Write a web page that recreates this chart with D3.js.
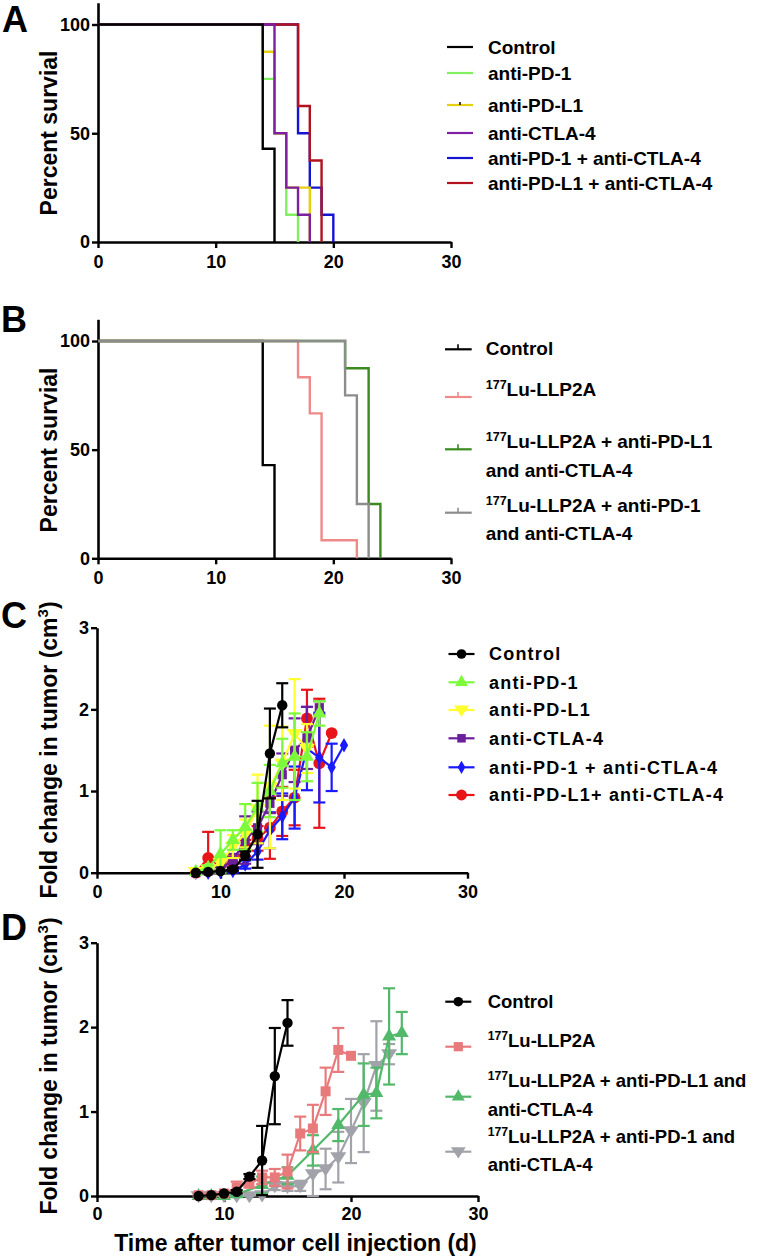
<!DOCTYPE html>
<html><head><meta charset="utf-8">
<script src="https://cdn.jsdelivr.net/npm/d3@7"></script>
<style>body{margin:0;background:#fff}svg{display:block}</style>
</head><body>
<svg id="chart" width="757" height="1259"></svg>
<script>
// ---------------- DATA ----------------
const xTicks = [0, 10, 20, 30];
const survTicksY = [0, 50, 100];
const growthTicksY = [0, 1, 2, 3];

// Panel A : Kaplan-Meier steps (day, percent survival)
const aNames = ["Control", "anti-PD-1", "anti-PD-L1", "anti-CTLA-4", "anti-PD-1 + anti-CTLA-4", "anti-PD-L1 + anti-CTLA-4"];
const aControlT = [0, 14, 15],          aControlS = [100, 42.9, 0];
const aPD1T     = [0, 14, 15, 16, 17],  aPD1S     = [100, 75, 50, 12.5, 0];
const aPDL1T    = [0, 14, 15, 16, 18],  aPDL1S    = [100, 87.5, 50, 25, 0];
const aCTLA4T   = [0, 15, 16, 17, 18],  aCTLA4S   = [100, 50, 25, 12.5, 0];
const aPD1CT    = [0, 17, 18, 19, 20],  aPD1CS    = [100, 50, 25, 12.5, 0];
const aPDL1CT   = [0, 17, 18, 19],      aPDL1CS   = [100, 62.5, 37.5, 0];

// Panel B
const bNames = [["Control"], ["177Lu-LLP2A"], ["177Lu-LLP2A + anti-PD-L1", "and anti-CTLA-4"], ["177Lu-LLP2A + anti-PD-1", "and anti-CTLA-4"]];
const bControlT = [0, 14, 15],             bControlS = [100, 42.9, 0];
const bLuT      = [0, 17, 18, 19, 22],     bLuS      = [100, 83.3, 66.7, 8.3, 0];
const bLuPDL1T  = [0, 21, 23, 24],         bLuPDL1S  = [100, 87.5, 25, 0];
const bLuPD1T   = [0, 21, 22, 23],         bLuPD1S   = [100, 75, 25, 0];

// Panel C : fold change in tumour, mean and error
const cNames = ["Control", "anti-PD-1", "anti-PD-L1", "anti-CTLA-4", "anti-PD-1 + anti-CTLA-4", "anti-PD-L1+ anti-CTLA-4"];
const cControlD = [8, 9, 10, 11, 12, 13, 14, 15];
const cControlM = [0, 0.01, 0.02, 0.04, 0.21, 0.47, 1.46, 2.05];
const cControlE = [0, 0.01, 0.01, 0.02, 0.05, 0.41, 0.55, 0.27];
const cPD1D = [8, 9, 10, 11, 12, 13, 14, 15, 16, 17, 18];
const cPD1M = [0.01, 0.06, 0.23, 0.40, 0.56, 0.80, 1.00, 1.34, 1.42, 1.42, 1.95];
const cPD1E = [0, 0.03, 0.29, 0.12, 0.28, 0.30, 0.32, 0.30, 0.53, 0.30, 0.15];
const cPDL1D = [8, 9, 10, 11, 12, 13, 14, 15, 16, 17];
const cPDL1M = [0.01, 0.04, 0.12, 0.32, 0.48, 0.78, 1.05, 1.34, 1.70, 1.52];
const cPDL1E = [0, 0.02, 0.08, 0.14, 0.17, 0.42, 0.75, 0.45, 0.67, 0.30];
const cCTLA4D = [8, 9, 10, 11, 12, 13, 14, 15, 16, 17, 18];
const cCTLA4M = [0, 0.02, 0.05, 0.15, 0.40, 0.55, 0.85, 1.20, 1.50, 1.65, 2.02];
const cCTLA4E = [0, 0.01, 0.03, 0.08, 0.29, 0.20, 0.12, 0.26, 0.39, 0.38, 0.08];
const cPD1CD = [8, 9, 10, 11, 12, 13, 14, 15, 16, 17, 18, 19, 20];
const cPD1CM = [0, 0, 0.01, 0.02, 0.10, 0.26, 0.52, 0.69, 0.92, 1.52, 1.41, 1.29, 1.56];
const cPD1CE = [0, 0, 0, 0.02, 0.05, 0.10, 0.22, 0.28, 0.38, 0.51, 0.55, 0.29, 0];
const cPDL1CD = [8, 9, 10, 11, 12, 13, 14, 15, 16, 17, 18, 19];
const cPDL1CM = [0, 0.18, 0.08, 0.12, 0.30, 0.42, 0.55, 0.75, 0.92, 1.89, 1.34, 1.71];
const cPDL1CE = [0, 0.32, 0.05, 0.08, 0.10, 0.15, 0.38, 0.30, 0.34, 0.35, 0.79, 0];

// Panel D
const dNames = [["Control"], ["177Lu-LLP2A"], ["177Lu-LLP2A + anti-PD-L1 and", "anti-CTLA-4"], ["177Lu-LLP2A + anti-PD-1 and", "anti-CTLA-4"]];
const dControlD = [8, 9, 10, 11, 12, 13, 14, 15];
const dControlM = [0, 0.01, 0.03, 0.05, 0.23, 0.42, 1.42, 2.05];
const dControlE = [0, 0.01, 0.01, 0.02, 0.03, 0.41, 0.57, 0.27];
const dLuD = [8, 9, 10, 11, 12, 13, 14, 15, 16, 17, 18, 19, 20];
const dLuM = [0.01, 0.01, 0.03, 0.10, 0.15, 0.22, 0.22, 0.29, 0.74, 0.80, 1.24, 1.73, 1.66];
const dLuE = [0.02, 0.02, 0.02, 0.07, 0.05, 0.08, 0.10, 0.20, 0.20, 0.28, 0.28, 0.26, 0];
const dLuPDL1D = [8, 9, 10, 11, 13, 15, 17, 19, 21, 22, 23, 24];
const dLuPDL1M = [0, 0, 0, 0.02, 0.13, 0.24, 0.54, 0.84, 1.20, 1.22, 1.89, 1.93];
const dLuPDL1E = [0, 0, 0, 0.02, 0.10, 0.10, 0.18, 0.19, 0.37, 0.30, 0.57, 0.25];
const dLuPD1D = [8, 9, 10, 11, 12, 13, 14, 15, 16, 17, 18, 19, 20, 21, 22, 23];
const dLuPD1M = [0, 0, 0, 0, 0, 0.01, 0.12, 0.11, 0.12, 0.26, 0.32, 0.46, 0.77, 1.10, 1.54, 1.68];
const dLuPD1E = [0, 0, 0, 0, 0, 0.01, 0.05, 0.05, 0.06, 0.27, 0.24, 0.30, 0.38, 0.58, 0.53, 0.12];

// ---------------- STYLE ----------------
const FONT = '"Liberation Sans", Arial, Helvetica, sans-serif';
const svg = d3.select("#chart").attr("font-family", FONT);

function zip(a, b) { return a.map((v, i) => [v, b[i]]); }

function axes(x, y, yTicks, xPad, yTitle, yTitleCenter) {
  const fmt = d3.format("d");
  const gx = svg.append("g").attr("transform", `translate(0,${y(0)})`)
    .call(d3.axisBottom(x).tickValues(xTicks).tickFormat(fmt).tickSize(6).tickSizeOuter(0).tickPadding(xPad));
  const gy = svg.append("g").attr("transform", `translate(${x(0)},0)`)
    .call(d3.axisLeft(y).tickValues(yTicks).tickFormat(fmt).tickSize(6).tickSizeOuter(0).tickPadding(2));
  [gx, gy].forEach(g => {
    g.attr("font-family", FONT).attr("font-size", 18).attr("font-weight", "bold");
    g.select(".domain").attr("stroke", "#000").attr("stroke-width", 2.6);
    g.selectAll(".tick line").attr("stroke", "#000").attr("stroke-width", 2.4);
    g.selectAll(".tick text").attr("fill", "#000");
  });
  const t = svg.append("text")
    .attr("transform", `translate(57,${yTitleCenter}) rotate(-90)`)
    .attr("text-anchor", "middle").attr("font-size", 23).attr("font-weight", "bold");
  if (yTitle === "fold") {
    t.append("tspan").text("Fold change in tumor (cm");
    t.append("tspan").attr("font-size", 15).attr("dy", -9).text("3");
    t.append("tspan").attr("dy", 9).text(")");
  } else t.text(yTitle);
}

function panelLetter(txt, x, y) {
  svg.append("text").attr("x", x).attr("y", y).attr("font-size", 36).attr("font-weight", "bold").text(txt);
}

function labelText(sel, str, size) {
  if (str.startsWith("177")) {
    sel.append("tspan").attr("font-size", size * 0.66).attr("dy", -7).text("177");
    sel.append("tspan").attr("dy", 7).text(str.slice(3));
  } else sel.text(str);
}

// ---------------- PANEL A ----------------
{
  const x = d3.scaleLinear([0, 30], [98, 451]);
  const y = d3.scaleLinear([0, 110], [242, 2.75]);
  const colors = ["#000000", "#80f060", "#e6cf10", "#7d1fa0", "#1414d2", "#b0121e"];
  const series = [zip(aControlT, aControlS), zip(aPD1T, aPD1S), zip(aPDL1T, aPDL1S), zip(aCTLA4T, aCTLA4S), zip(aPD1CT, aPD1CS), zip(aPDL1CT, aPDL1CS)];
  const line = d3.line().x(d => x(d[0])).y(d => y(d[1])).curve(d3.curveStepAfter);
  axes(x, y, survTicksY, 7, "Percent survial", 133);
  [4, 5, 1, 2, 3, 0].forEach(i => {
    svg.append("path").attr("d", line(series[i])).attr("fill", "none")
      .attr("stroke", colors[i]).attr("stroke-width", 2.4);
  });
  const rows = [47, 73, 105, 133, 158, 183];
  aNames.forEach((n, i) => {
    svg.append("line").attr("x1", 447).attr("x2", 473).attr("y1", rows[i]).attr("y2", rows[i])
      .attr("stroke", colors[i]).attr("stroke-width", 2.2);
    if (i === 2) svg.append("line").attr("x1", 460).attr("x2", 460).attr("y1", rows[i] - 3).attr("y2", rows[i])
      .attr("stroke", "#000").attr("stroke-width", 1.5);
    svg.append("text").attr("x", 488).attr("y", rows[i]).attr("dy", "0.36em")
      .attr("font-size", 19).attr("font-weight", "bold").text(n);
  });
  panelLetter("A", 2, 32);
}

// ---------------- PANEL B ----------------
{
  const x = d3.scaleLinear([0, 30], [98, 451]);
  const y = d3.scaleLinear([0, 110], [558.3, 319.3]);
  const colors = ["#000000", "#ee8a8a", "#3a8a1e", "#8c8c8c"];
  const series = [zip(bControlT, bControlS), zip(bLuT, bLuS), zip(bLuPDL1T, bLuPDL1S), zip(bLuPD1T, bLuPD1S)];
  const line = d3.line().x(d => x(d[0])).y(d => y(d[1])).curve(d3.curveStepAfter);
  axes(x, y, survTicksY, 7, "Percent survial", 450);
  [0, 1, 2, 3].forEach(i => {
    svg.append("path").attr("d", line(series[i])).attr("fill", "none")
      .attr("stroke", colors[i]).attr("stroke-width", 2.4);
  });
  const rows = [[348.3], [396], [448.3, 470], [511.7, 533.3]];
  bNames.forEach((lines, i) => {
    const ly = rows[i][0];
    svg.append("line").attr("x1", 445).attr("x2", 471.7).attr("y1", ly + 1).attr("y2", ly + 1)
      .attr("stroke", colors[i]).attr("stroke-width", 2.2);
    svg.append("line").attr("x1", 458).attr("x2", 458).attr("y1", ly - 4).attr("y2", ly + 1)
      .attr("stroke", colors[i]).attr("stroke-width", 1.6);
    lines.forEach((s, k) => {
      const t = svg.append("text").attr("x", 485.7).attr("y", rows[i][k]).attr("dy", "0.36em")
        .attr("font-size", 19).attr("font-weight", "bold");
      labelText(t, s, 19);
    });
  });
  panelLetter("B", 1, 332);
}

// ---------------- growth helpers ----------------
function drawGrowth(x, y, s) {
  const g = svg.append("g");
  const pts = zip(s.d, s.m).map((p, i) => ({ d: p[0], m: p[1], e: s.e[i] }));
  g.append("path").attr("d", d3.line().x(p => x(p.d)).y(p => y(p.m))(pts))
    .attr("fill", "none").attr("stroke", s.color).attr("stroke-width", 2.2);
  pts.filter(p => p.e > 0.015).forEach(p => {
    const lo = Math.max(0, p.m - p.e), hi = p.m + p.e;
    g.append("line").attr("x1", x(p.d)).attr("x2", x(p.d)).attr("y1", y(lo)).attr("y2", y(hi))
      .attr("stroke", s.color).attr("stroke-width", 2.2);
    [lo, hi].forEach(v => g.append("line").attr("x1", x(p.d) - 6).attr("x2", x(p.d) + 6)
      .attr("y1", y(v)).attr("y2", y(v)).attr("stroke", s.color).attr("stroke-width", 2.2));
  });
  g.selectAll("path.sym").data(pts).join("path").attr("class", "sym")
    .attr("transform", p => `translate(${x(p.d)},${y(p.m)})`)
    .attr("d", d3.symbol(s.sym, s.size)).attr("fill", s.color);
}
function legendSym(cx, cy, s) {
  svg.append("line").attr("x1", cx - 13).attr("x2", cx + 13).attr("y1", cy).attr("y2", cy)
    .attr("stroke", s.color).attr("stroke-width", 2.2);
  svg.append("path").attr("transform", `translate(${cx},${cy})`)
    .attr("d", d3.symbol(s.sym, s.size * 0.85)).attr("fill", s.color);
}
const triDown = { draw(ctx, size) { const r = Math.sqrt(size / 1.3); ctx.moveTo(-r, -r * 0.6); ctx.lineTo(r, -r * 0.6); ctx.lineTo(0, r * 0.9); ctx.closePath(); } };

// ---------------- PANEL C ----------------
{
  const x = d3.scaleLinear([0, 30], [97, 467.5]);
  const y = d3.scaleLinear([0, 3], [872.7, 627.7]);
  axes(x, y, growthTicksY, 7, "fold", 750);
  const S = [
    { d: cControlD, m: cControlM, e: cControlE, color: "#000000", sym: d3.symbolCircle, size: 85 },
    { d: cPD1D, m: cPD1M, e: cPD1E, color: "#7dfa3c", sym: d3.symbolTriangle, size: 85 },
    { d: cPDL1D, m: cPDL1M, e: cPDL1E, color: "#ffff2e", sym: triDown, size: 85 },
    { d: cCTLA4D, m: cCTLA4M, e: cCTLA4E, color: "#6c1f9c", sym: d3.symbolSquare, size: 85 },
    { d: cPD1CD, m: cPD1CM, e: cPD1CE, color: "#1a1aff", sym: d3.symbolDiamond, size: 60 },
    { d: cPDL1CD, m: cPDL1CM, e: cPDL1CE, color: "#e8141a", sym: d3.symbolCircle, size: 110 }
  ];
  [5, 4, 3, 2, 1, 0].forEach(i => drawGrowth(x, y, S[i]));
  const rows = [654, 682.3, 710, 738.3, 767.3, 795];
  cNames.forEach((n, i) => {
    legendSym(461.5, rows[i], S[i]);
    svg.append("text").attr("x", 489).attr("y", rows[i]).attr("dy", "0.36em")
      .attr("font-size", 18).attr("font-weight", "bold").attr("letter-spacing", 1.2).text(n);
  });
  panelLetter("C", 1, 628);
}

// ---------------- PANEL D ----------------
{
  const x = d3.scaleLinear([0, 30], [97, 478]);
  const y = d3.scaleLinear([0, 3], [1196, 942.7]);
  axes(x, y, growthTicksY, 5, "fold", 1066);
  const S = [
    { d: dControlD, m: dControlM, e: dControlE, color: "#000000", sym: d3.symbolCircle, size: 85 },
    { d: dLuD, m: dLuM, e: dLuE, color: "#e87a7c", sym: d3.symbolSquare, size: 100 },
    { d: dLuPDL1D, m: dLuPDL1M, e: dLuPDL1E, color: "#52b86a", sym: d3.symbolTriangle, size: 85 },
    { d: dLuPD1D, m: dLuPD1M, e: dLuPD1E, color: "#a2a2aa", sym: triDown, size: 85 }
  ];
  [3, 2, 1, 0].forEach(i => drawGrowth(x, y, S[i]));
  const rows = [[1001.7], [1046.7], [1086.7, 1109.3], [1142.7, 1164.3]];
  const symY = [1001.7, 1046.7, 1096.7, 1151.7];
  dNames.forEach((lines, i) => {
    legendSym(458.3, symY[i], S[i]);
    lines.forEach((s, k) => {
      const t = svg.append("text").attr("x", 487.7).attr("y", rows[i][k]).attr("dy", "0.36em")
        .attr("font-size", 18.5).attr("font-weight", "bold");
      labelText(t, s, 18.5);
    });
  });
  svg.append("text").attr("x", 295.5).attr("y", 1251).attr("text-anchor", "middle")
    .attr("font-size", 23).attr("font-weight", "bold").text("Time after tumor cell injection (d)");
  panelLetter("D", 1, 940);
}
</script>
</body></html>
